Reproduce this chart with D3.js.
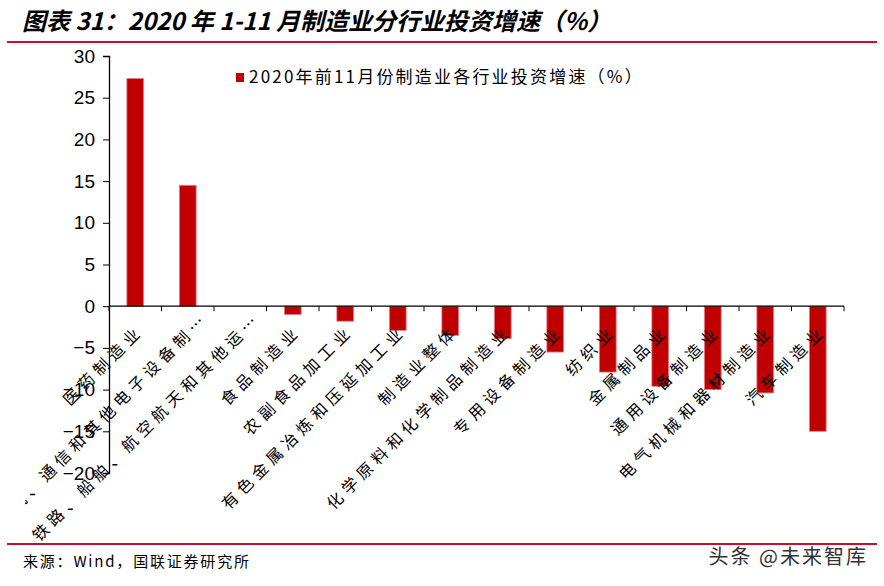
<!DOCTYPE html>
<html>
<head>
<meta charset="utf-8">
<script src="https://cdn.jsdelivr.net/npm/d3@7"></script>
<style>
  body { margin: 0; background: #fff; }
  svg { display: block; }
</style>
</head>
<body>
<div id="chart"></div>
<script>
// data
var categories = [
  "医药制造业",
  "计算机、通信和其他电子设备制…",
  "铁路、船舶、航空航天和其他运…",
  "食品制造业",
  "农副食品加工业",
  "有色金属冶炼和压延加工业",
  "制造业整体",
  "化学原料和化学制品制造业",
  "专用设备制造业",
  "纺织业",
  "金属制品业",
  "通用设备制造业",
  "电气机械和器材制造业",
  "汽车制造业"
];
var growth = [27.3, 14.5, 0, -1.0, -1.8, -2.9, -3.5, -3.9, -5.5, -7.9, -9.6, -10.0, -10.4, -15.0];
var yTicks = [-20, -15, -10, -5, 0, 5, 10, 15, 20, 25, 30];
var seriesName = "2020年前11月份制造业各行业投资增速（%）";

var width = 884, height = 586;
var cjk = "'Noto Sans CJK SC', sans-serif";

var svg = d3.select("#chart").append("svg")
  .attr("width", width)
  .attr("height", height);

// chart area clip (long labels run off its left side)
svg.append("defs").append("clipPath")
  .attr("id", "chartArea")
  .append("rect")
  .attr("x", 25).attr("y", 44)
  .attr("width", 850).attr("height", 498);

// title + red rules
svg.append("text")
  .attr("x", 22)
  .attr("y", 30)
  .attr("font-family", cjk)
  .attr("font-weight", "bold")
  .attr("font-style", "italic")
  .attr("font-size", 24)
  .attr("fill", "#000")
  .text("图表 31：2020 年 1-11 月制造业分行业投资增速（%）");

svg.append("line")
  .attr("x1", 7).attr("x2", 877)
  .attr("y1", 42).attr("y2", 42)
  .attr("stroke", "#C8102E").attr("stroke-width", 2);

svg.append("line")
  .attr("x1", 7).attr("x2", 877)
  .attr("y1", 544).attr("y2", 544)
  .attr("stroke", "#C8102E").attr("stroke-width", 2);

svg.append("text")
  .attr("x", 23).attr("y", 567)
  .attr("font-family", cjk)
  .attr("font-size", 15)
  .style("letter-spacing", "1.8px")
  .attr("fill", "#000")
  .text("来源：Wind，国联证券研究所");

svg.append("text")
  .attr("x", 868).attr("y", 564)
  .attr("text-anchor", "end")
  .attr("font-family", cjk)
  .attr("font-size", 20)
  .style("letter-spacing", "2px")
  .attr("fill", "#333")
  .text("头条 @未来智库");

// scales
var x = d3.scaleBand()
  .domain(categories)
  .range([109, 844])
  .paddingInner(0.68)
  .paddingOuter(0.34);

var y = d3.scaleLinear()
  .domain([-20, 30])
  .range([473, 56]);

// y axis
var yAxis = svg.append("g")
  .attr("transform", "translate(109,0)")
  .call(d3.axisLeft(y).tickValues(yTicks).tickSize(6).tickPadding(8));
yAxis.selectAll("text")
  .attr("font-family", "'Liberation Sans', Arial, sans-serif")
  .attr("font-size", 19)
  .attr("fill", "#000");
yAxis.select(".domain").attr("stroke", "#000").attr("stroke-width", 1.3);
yAxis.selectAll(".tick line").attr("stroke", "#000");

// bars
svg.selectAll(".bar")
  .data(growth)
  .enter()
  .append("rect")
  .attr("class", "bar")
  .attr("x", function (d, i) { return x(categories[i]); })
  .attr("width", x.bandwidth())
  .attr("y", function (d) { return y(Math.max(0, d)); })
  .attr("height", function (d) { return Math.abs(y(d) - y(0)); })
  .attr("fill", "#C00000")
  .attr("stroke", "#E5808A")
  .attr("stroke-width", 0.8);

// category axis along zero, ticks on band edges
var x0 = y(0);
svg.append("line")
  .attr("x1", 109).attr("x2", 844)
  .attr("y1", x0).attr("y2", x0)
  .attr("stroke", "#000").attr("stroke-width", 1.3);

var edges = d3.range(categories.length + 1).map(function (i) {
  return 109 + i * x.step();
});
svg.selectAll(".xtick")
  .data(edges)
  .enter()
  .append("line")
  .attr("class", "xtick")
  .attr("x1", function (d) { return d; })
  .attr("x2", function (d) { return d; })
  .attr("y1", x0)
  .attr("y2", x0 + 5)
  .attr("stroke", "#000");

// category labels, rotated -45 (truncated ones hang a bit further out)
svg.append("g")
  .attr("clip-path", "url(#chartArea)")
  .selectAll(".cat")
  .data(categories)
  .enter()
  .append("text")
  .attr("class", "cat")
  .attr("text-anchor", "end")
  .attr("font-family", cjk)
  .attr("font-size", 16)
  .style("letter-spacing", "5px")
  .attr("fill", "#000")
  .attr("x", function (d) { return d.slice(-1) === "…" ? 18 : 0; })
  .attr("transform", function (d) {
    var cx = x(d) + x.bandwidth() / 2 + 9;
    return "translate(" + cx + "," + (x0 + 26) + ") rotate(-45)";
  })
  .text(function (d) { return d; });

// legend
var legend = svg.append("g").attr("transform", "translate(236,73)");
legend.append("rect")
  .attr("width", 8).attr("height", 9)
  .attr("fill", "#C00000");
legend.append("text")
  .attr("x", 13).attr("y", 10)
  .attr("font-family", cjk)
  .attr("font-size", 17)
  .style("letter-spacing", "2.2px")
  .attr("fill", "#000")
  .text(seriesName);
</script>
</body>
</html>
